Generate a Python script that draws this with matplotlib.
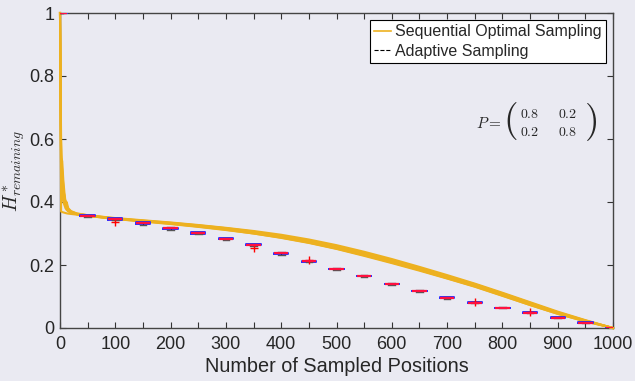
import matplotlib
matplotlib.use("Agg")
import matplotlib.pyplot as plt

# ---------------- data ----------------
x_seq = [0, 2, 4, 6, 8, 10, 12, 15, 20, 30, 50, 100, 150, 200, 250, 300, 350,
         400, 450, 500, 550, 600, 650, 700, 750, 800, 850, 900, 950, 1000]
seq_run1 = [1.0, 0.37, 0.368, 0.367, 0.366, 0.365, 0.364, 0.363, 0.362, 0.360, 0.356, 0.346, 0.339, 0.331, 0.322, 0.312, 0.300, 0.287, 0.271, 0.252, 0.231, 0.208, 0.184, 0.158, 0.132, 0.103, 0.073, 0.045, 0.021, 0.0]
seq_run2 = [1.0, 0.55, 0.50, 0.45, 0.41, 0.39, 0.40, 0.38, 0.371, 0.364, 0.358, 0.348, 0.341, 0.334, 0.326, 0.317, 0.306, 0.293, 0.278, 0.259, 0.238, 0.215, 0.191, 0.165, 0.139, 0.110, 0.080, 0.050, 0.024, 0.0]
seq_run3 = [1.0, 0.54, 0.53, 0.47, 0.43, 0.40, 0.385, 0.375, 0.368, 0.362, 0.357, 0.347, 0.340, 0.332, 0.323, 0.314, 0.303, 0.290, 0.275, 0.256, 0.235, 0.212, 0.188, 0.162, 0.136, 0.107, 0.077, 0.048, 0.023, 0.0]
seq_run4 = [1.0, 0.60, 0.48, 0.42, 0.40, 0.405, 0.39, 0.378, 0.370, 0.363, 0.358, 0.349, 0.342, 0.335, 0.327, 0.318, 0.308, 0.296, 0.281, 0.263, 0.242, 0.219, 0.194, 0.168, 0.141, 0.112, 0.082, 0.052, 0.025, 0.0]
seq_run5 = [1.0, 0.45, 0.42, 0.40, 0.39, 0.38, 0.375, 0.37, 0.366, 0.361, 0.356, 0.346, 0.338, 0.330, 0.321, 0.311, 0.300, 0.286, 0.270, 0.251, 0.229, 0.206, 0.182, 0.157, 0.131, 0.102, 0.073, 0.045, 0.021, 0.0]
seq_run6 = [1.0, 0.50, 0.46, 0.44, 0.42, 0.39, 0.38, 0.372, 0.367, 0.362, 0.357, 0.347, 0.340, 0.333, 0.325, 0.316, 0.305, 0.292, 0.277, 0.258, 0.237, 0.214, 0.190, 0.164, 0.138, 0.109, 0.079, 0.049, 0.023, 0.0]
seq_runs = [seq_run1, seq_run2, seq_run3, seq_run4, seq_run5, seq_run6]

box_pos = [0, 50, 100, 150, 200, 250, 300, 350, 400, 450, 500,
           550, 600, 650, 700, 750, 800, 850, 900, 950, 1000]
box_med = [1.0, 0.356, 0.346, 0.333, 0.316, 0.302, 0.283, 0.264, 0.237, 0.212, 0.187,
           0.165, 0.140, 0.117, 0.096, 0.080, 0.064, 0.049, 0.033, 0.017, 0.0]
box_q1 = [1.0, 0.354, 0.344, 0.330, 0.314, 0.299, 0.281, 0.262, 0.235, 0.211, 0.186,
          0.164, 0.139, 0.116, 0.095, 0.079, 0.063, 0.048, 0.032, 0.016, 0.0]
box_q3 = [1.0, 0.358, 0.348, 0.335, 0.318, 0.304, 0.285, 0.266, 0.239, 0.213, 0.188,
          0.166, 0.141, 0.118, 0.097, 0.081, 0.065, 0.050, 0.034, 0.018, 0.0]
box_lo = [1.0, 0.353, 0.342, 0.328, 0.312, 0.297, 0.279, 0.261, 0.233, 0.210, 0.185,
          0.163, 0.138, 0.114, 0.093, 0.078, 0.062, 0.047, 0.031, 0.015, 0.0]
box_hi = [1.0, 0.359, 0.350, 0.337, 0.320, 0.306, 0.287, 0.267, 0.241, 0.214, 0.189,
          0.167, 0.143, 0.120, 0.099, 0.082, 0.066, 0.051, 0.035, 0.019, 0.0]
box_fliers = [[], [], [0.337], [], [], [], [], [0.253], [], [0.216], [],
              [], [], [], [], [0.081], [], [0.050], [], [], []]

x_ticks = [0, 100, 200, 300, 400, 500, 600, 700, 800, 900, 1000]
y_ticks = [0, 0.2, 0.4, 0.6, 0.8, 1]
p_matrix = [["0.8", "0.2"], ["0.2", "0.8"]]

# ---------------- style ----------------
bg = "#eaeaf2"
txt = "#262626"
orange = "#EDB120"
plt.rcParams["font.family"] = ["Liberation Sans", "DejaVu Sans"]
plt.rcParams["mathtext.fontset"] = "cm"

fig = plt.figure(figsize=(6.35, 3.81), dpi=100, facecolor=bg)
ax = fig.add_axes([60/635, 1-328/381, 553/635, 315/381], facecolor=bg)

for r in seq_runs:
    ax.plot(x_seq, r, color=orange, lw=1.5, zorder=3, clip_on=False)

stats = []
for i, p in enumerate(box_pos):
    stats.append(dict(med=box_med[i], q1=box_q1[i], q3=box_q3[i],
                      whislo=box_lo[i], whishi=box_hi[i], fliers=box_fliers[i]))
ax.bxp(stats, positions=box_pos, widths=26, manage_ticks=False, patch_artist=False,
       boxprops=dict(color="#3030ff", lw=1.4),
       medianprops=dict(color="#ff1040", lw=1.6),
       whiskerprops=dict(color="black", lw=0.8, ls="--"),
       capprops=dict(color="#555555", lw=1.0),
       flierprops=dict(marker="+", markeredgecolor="red", markersize=6, mew=1.0),
       capwidths=12, zorder=3.5)

ax.set_xlim(0, 1000)
ax.set_ylim(0, 1)
ax.set_xticks(x_ticks)
ax.set_xticks([50 + 100*k for k in range(10)], minor=True)
ax.set_yticks(y_ticks)
ax.set_yticklabels(["0", "0.2", "0.4", "0.6", "0.8", "1"])
ax.tick_params(which="both", direction="in", top=True, right=True, length=4,
               width=0.8, color="#333333", labelsize=13, labelcolor=txt)
ax.tick_params(axis="x", pad=6)
ax.tick_params(axis="y", pad=4)
for s in ax.spines.values():
    s.set_color("#444444")
    s.set_linewidth(1.0)

ax.set_xlabel("Number of Sampled Positions", fontsize=14.3, color=txt, labelpad=3)
ax.set_ylabel(r"$H^*_{remaining}$", fontsize=14, color=txt, labelpad=1)

h1, = ax.plot([], [], color=orange, lw=1.2, label="Sequential Optimal Sampling")
h2, = ax.plot([], [], color="black", lw=0.8, ls="--", label="Adaptive Sampling")
leg = ax.legend(handles=[h1, h2], loc="upper right", bbox_to_anchor=(1.0, 1.0),
                fontsize=11.5, handlelength=1.1, handletextpad=0.25,
                borderpad=0.25, labelspacing=0.3, fancybox=False, framealpha=1,
                borderaxespad=0.45)
leg.get_frame().set_edgecolor("black")
leg.get_frame().set_linewidth(0.8)
for t in leg.get_texts():
    t.set_color(txt)

def axf(px, py):
    return ((px - 60) / 553, (328 - py) / 315)

ax.text(*axf(489, 123), r"$P=$", transform=ax.transAxes, fontsize=11,
        ha="center", va="center", color=txt)
ax.text(*axf(511, 121), "(", transform=ax.transAxes, fontsize=27,
        family="cmr10", ha="center", va="center", color=txt)
ax.text(*axf(592, 121), ")", transform=ax.transAxes, fontsize=27,
        family="cmr10", ha="center", va="center", color=txt)
col_px = [530, 568]
row_py = [114, 132]
for ri, row in enumerate(p_matrix):
    for ci, s in enumerate(row):
        ax.text(*axf(col_px[ci], row_py[ri]), r"$%s$" % s, transform=ax.transAxes,
                fontsize=10, ha="center", va="center", color=txt)

fig.savefig("out.png", dpi=100, facecolor=bg)
